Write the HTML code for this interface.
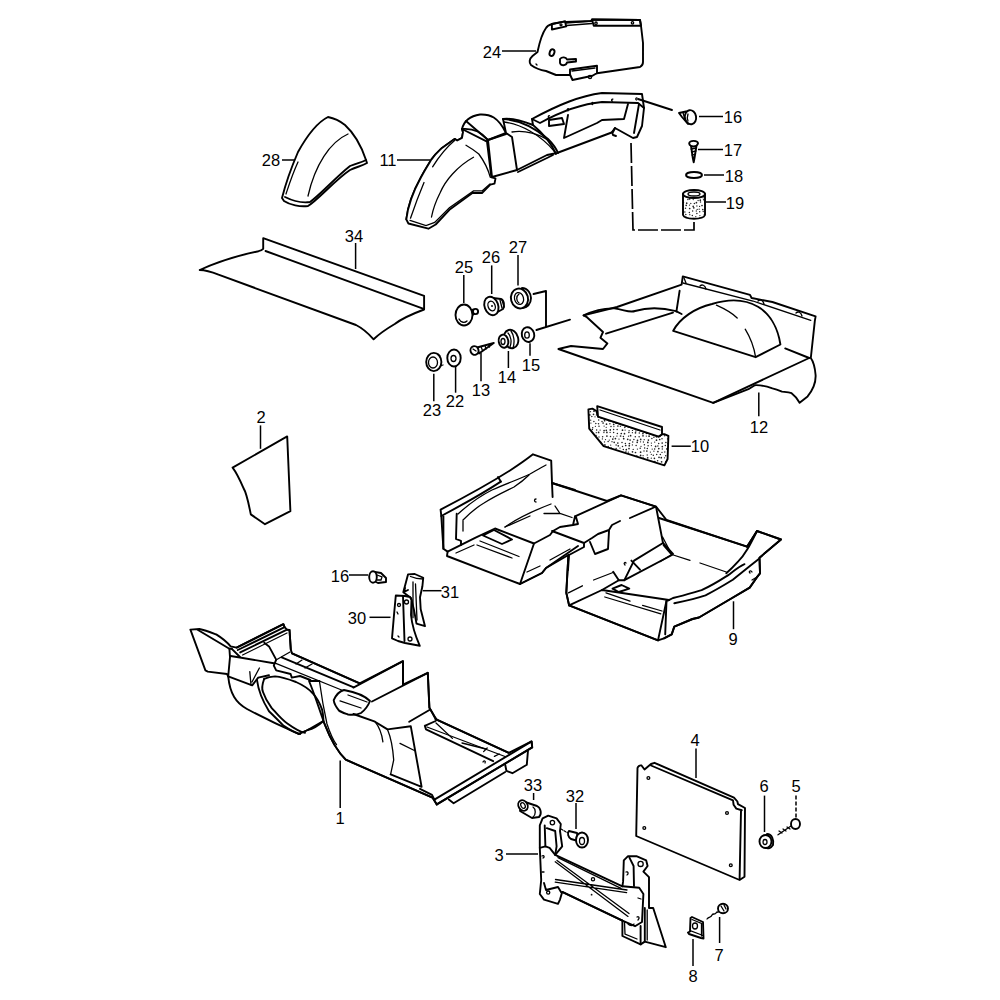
<!DOCTYPE html>
<html><head><meta charset="utf-8"><style>
html,body{margin:0;padding:0;background:#fff;width:1000px;height:1000px;overflow:hidden}
svg{display:block}
.p{fill:#fff;stroke:#000;stroke-width:1.9;stroke-linejoin:round;stroke-linecap:round}
.l{fill:none;stroke:#000;stroke-width:1.9;stroke-linejoin:round;stroke-linecap:round}
.ld{fill:none;stroke:#000;stroke-width:1.5;stroke-linecap:butt}
.t{fill:none;stroke:#000;stroke-width:1.3;stroke-linecap:round}
.d{fill:none;stroke:#000;stroke-width:1.7;stroke-dasharray:20 3}
text{font-family:"Liberation Sans",sans-serif;font-size:16.5px;fill:#000;stroke:none;text-anchor:middle}
</style></head><body>
<svg width="1000" height="1000" viewBox="0 0 1000 1000">
<defs>
<pattern id="dots" width="4" height="4" patternUnits="userSpaceOnUse">
<rect width="4" height="4" fill="#fff"/><circle cx="1" cy="1" r="0.8" fill="#333"/><circle cx="3" cy="3" r="0.6" fill="#555"/>
</pattern>
<clipPath id="c10"><path d="M588.4,409.4 L592.4,408.6 L596.4,411 L598,416.6 L658.8,436.6 L662,434.2 L664.4,434.2 L668.4,435.8 L667.6,459 L664.4,465.4 L603.6,446.2 L589.2,428.6 Z"/></clipPath><clipPath id="c19"><path d="M683,194 L683,215 C685,220 703,220 705,215 L705,194 Z"/></clipPath>
</defs>
<!-- PARTS TOP -->
<g id="p24">
<path class="p" d="M546,28 C541,35 539,45 537.5,52 L532.5,56 C529,59 529,63 531,65 C535,68 540,70 546,71 L556,75 L570,75 L597,73.25 L640,67 C642,66 643,64 643,62 L643,43 L641,25.75 L640,20 L592,19.5 L591,21 L566,22 L565,21.4 L552,24 C549,25 547,26 546,28 Z"/>
<path class="l" d="M551.9,24 L565,21.4 L566.25,26.4 L551.9,29.5 Z"/>
<path class="t" d="M566,23 L592,21 M566.5,25.5 L592,23.5"/>
<path class="l" d="M592,19.5 L640,20 L641,25.75 L593.75,25.75 Z"/>
<circle class="t" cx="561" cy="24.8" r="1"/><circle class="t" cx="596" cy="23.2" r="1.2"/><circle class="t" cx="632.5" cy="22.8" r="1.2"/>
<path class="p" d="M570,69.5 L597,65.75 L597,73 L592.5,75.75 L572.5,80 L570,74.5 Z"/>
<path class="t" d="M572,71 L595,68"/>
<circle class="t" cx="590" cy="77" r="1.6"/>
<ellipse class="l" cx="552" cy="52.6" rx="2.3" ry="3.5" transform="rotate(20 552 52.6)"/>
<path class="l" d="M560,59 C562,56.5 566,57 567,59.5 L576,59 L576,61.5 L567,62.5 C566,66 561,66 560,63 Z"/>
<path class="t" d="M536,64 L537,65"/>
<path class="ld" d="M502,51 L536,51"/>
</g>
<g id="p28">
<path class="p" d="M328,117 C318,122 308,134 298,152 C292,166 286,182 282,198 L284,201 C290,205 300,207 308,206 C318,200 335,180 350,170 C356,167 362,166 367,163 L366,160 C362,148 356,135 345,125 C340,121 333,118 328,117 Z"/>
<path class="l" d="M285,197 C295,202 303,203 310,202 C320,195 335,178 350,166 C357,163 363,162 366,160"/>
<path class="t" d="M348,134 C330,142 315,165 308,196"/>
<path class="t" d="M298,162 C292,175 288,188 286,194"/>
<path class="ld" d="M282,160 L294,160"/>
</g>
<g id="p11">
<path class="p" d="M406.3,219.3 C408,205 414,190 421,177.3 C426,168 430,162 431.5,159.4 C436,153 440,150 442,147.9 L454.6,138.9 L457.2,140.5 L462,137.9 L463,132.1 L462,129 C464,121 470,116 480,114.5 C490,114 498,117 506,133 L512,137 L517,170 L547,155 L552,154 L557,153 L613,132 L615,128 L633,138 L637,137 L642,126 L644,108 L642,94 L602,93 C580,96 560,104 532,119 L533,125 C520,120 510,118 503,119 L506,133 L488,140 L470,160 Z"/>
<path class="p" d="M406.3,219.3 C408,205 414,190 421,177.3 C426,168 430,162 431.5,159.4 C436,153 440,150 442,147.9 L454.6,138.9 L457.2,140.5 L462,137.9 L463,132.1 L462,129 L487,141.6 L491.4,177.3 L495.5,178.3 L494.5,183.6 L490.3,184.6 L482,193 L472.4,193 L449.4,209.8 L435.7,224.5 L428.4,228.7 L408.4,223.5 Z"/>
<path class="t" d="M410,220.3 L426,225.5 L434.7,222.4 L449.4,207.7 L473.5,190.9 L482,190.9 L490,184"/>
<path class="t" d="M410.5,218.2 C415,205 420,192 424,182.5 M432.6,166.8 C440,155 448,146 454.6,140.5"/>
<path class="t" d="M473.5,157.3 C465,162 458,168 452.5,174 C447,180 443,186 440,193 C436,201 433,209 431.5,217"/>
<path class="t" d="M466,145.2 C471,148 475,151 478.8,154 C484,161 488,169 490.3,177.3"/>
<path class="l" d="M462,129 C475,128 482,133 488,140 L506,134"/>
<path class="l" d="M466,121 L488,140 L492,177 L517,170"/>
<path class="l" d="M503,119 C520,120 535,128 548,139 C552,143 556,148 558,153"/>
<path class="t" d="M504,122 C520,124 540,134 555,152"/>
<path class="t" d="M512,132 C525,130 540,134 549,141"/>
<path class="l" d="M518,172 L547,158 L553,155"/>
<path class="l" d="M532,119 L540,123 C560,112 580,104 602,102 L638,103 L644,108"/>
<path class="l" d="M639,104 L634,133"/>
<path class="l" d="M568,115 L564,138 L597,123 L602,120 L624,119 L628,104"/>
<path class="l" d="M533,125 C545,135 552,145 556,154"/>
<path class="l" d="M549,120 L562,118 L564,124 L549,126 Z"/>
<path class="l" d="M615,128 L612,132 L613,135 L616,136"/>
<path class="ld" d="M397,160 L430,160"/>
<path class="t" d="M549.5,115.8 c-1.2,-0.6 -1.8,1.6 -0.4,2"/><path class="t" d="M568.5,108.8 c-1.2,-0.6 -1.8,1.6 -0.4,2"/><path class="t" d="M593.0,102.6 c-1.2,-0.6 -1.8,1.6 -0.4,2"/><path class="t" d="M612.8,99.2 c-1.2,-0.6 -1.8,1.6 -0.4,2"/><path class="t" d="M637.0,98.0 c-1.2,-0.6 -1.8,1.6 -0.4,2"/>
</g>
<g id="p16a">
<path class="l" d="M638,99 L672,110"/>
<path class="p" d="M679,113 L686,111.5 L688,124 L682,117 Z"/>
<path class="t" d="M683,112.5 L685,120"/>
<ellipse class="p" cx="690.5" cy="117.2" rx="5.6" ry="7.1" transform="rotate(-10 690.5 117.2)"/>
<path class="t" d="M688,114 C687,117 687,119 688,121"/>
<path class="ld" d="M699,116.5 L723,116.5"/>
</g>
<g id="p17">
<path class="p" d="M691,145.5 L696.5,145.5 L694.5,158 L693.7,162.4 L692.8,158 Z"/>
<path class="t" d="M691.2,149 L696.3,148 M691.5,152 L696,151 M692,155 L695.5,154"/>
<path class="p" d="M689.2,143.5 C689,140 698,140 698,143.5 C697.5,145.5 695,146.5 693.6,146.5 C692,146.5 689.5,145.5 689.2,143.5 Z"/>
<path class="ld" d="M698,149.5 L723,149.5"/>
</g>
<g id="p18">
<ellipse class="p" cx="694" cy="175" rx="8" ry="3"/>
<path class="ld" d="M704,175 L724,175"/>
</g>
<g id="p19">
<path d="M683,194 L683,215 C685,220 703,220 705,215 L705,194 Z" fill="#fff"/><g clip-path="url(#c19)" fill="#222"><circle cx="684.7" cy="187.6" r="0.85"/><circle cx="686.3" cy="188.7" r="0.85"/><circle cx="690.9" cy="188.3" r="0.75"/><circle cx="693.4" cy="188.3" r="0.65"/><circle cx="697.9" cy="187.2" r="0.75"/><circle cx="699.9" cy="187.8" r="0.75"/><circle cx="703.7" cy="188.4" r="0.65"/><circle cx="681.3" cy="190.9" r="0.65"/><circle cx="684.6" cy="191.4" r="0.85"/><circle cx="687.5" cy="190.6" r="0.75"/><circle cx="692.3" cy="190.9" r="0.75"/><circle cx="695.5" cy="191.1" r="0.85"/><circle cx="699.4" cy="191.8" r="0.65"/><circle cx="701.7" cy="190.1" r="0.75"/><circle cx="704.9" cy="190.7" r="0.85"/><circle cx="682.5" cy="194.7" r="0.65"/><circle cx="684.5" cy="193.6" r="0.75"/><circle cx="689.0" cy="193.4" r="0.85"/><circle cx="693.0" cy="194.2" r="0.75"/><circle cx="695.9" cy="194.8" r="0.75"/><circle cx="698.1" cy="194.3" r="0.65"/><circle cx="703.0" cy="194.2" r="0.85"/><circle cx="705.9" cy="194.1" r="0.65"/><circle cx="682.6" cy="197.6" r="0.75"/><circle cx="686.3" cy="196.6" r="0.65"/><circle cx="689.1" cy="196.4" r="0.75"/><circle cx="691.9" cy="197.8" r="0.65"/><circle cx="695.7" cy="196.4" r="0.75"/><circle cx="699.3" cy="196.3" r="0.65"/><circle cx="703.2" cy="197.8" r="0.65"/><circle cx="705.2" cy="196.9" r="0.85"/><circle cx="682.8" cy="200.5" r="0.85"/><circle cx="687.9" cy="199.5" r="0.75"/><circle cx="689.6" cy="198.9" r="0.85"/><circle cx="693.2" cy="199.6" r="0.65"/><circle cx="698.1" cy="200.5" r="0.65"/><circle cx="700.3" cy="200.2" r="0.85"/><circle cx="703.6" cy="199.7" r="0.75"/><circle cx="683.6" cy="202.3" r="0.65"/><circle cx="686.7" cy="203.2" r="0.85"/><circle cx="690.8" cy="203.5" r="0.65"/><circle cx="694.4" cy="203.6" r="0.75"/><circle cx="696.4" cy="202.7" r="0.85"/><circle cx="700.5" cy="202.1" r="0.75"/><circle cx="704.7" cy="201.9" r="0.75"/><circle cx="682.8" cy="206.1" r="0.75"/><circle cx="686.2" cy="205.3" r="0.85"/><circle cx="689.5" cy="205.1" r="0.65"/><circle cx="693.2" cy="206.4" r="0.85"/><circle cx="696.9" cy="206.0" r="0.65"/><circle cx="699.6" cy="206.4" r="0.65"/><circle cx="702.0" cy="205.5" r="0.85"/><circle cx="705.7" cy="206.1" r="0.65"/><circle cx="683.0" cy="209.3" r="0.65"/><circle cx="685.5" cy="208.2" r="0.75"/><circle cx="689.7" cy="208.5" r="0.85"/><circle cx="693.8" cy="207.8" r="0.85"/><circle cx="697.2" cy="209.4" r="0.65"/><circle cx="699.2" cy="209.2" r="0.65"/><circle cx="702.8" cy="209.5" r="0.85"/><circle cx="707.1" cy="208.0" r="0.65"/><circle cx="682.7" cy="212.3" r="0.75"/><circle cx="684.9" cy="212.1" r="0.75"/><circle cx="689.4" cy="212.6" r="0.75"/><circle cx="692.6" cy="211.1" r="0.75"/><circle cx="696.3" cy="211.0" r="0.65"/><circle cx="699.7" cy="211.8" r="0.75"/><circle cx="703.2" cy="211.5" r="0.65"/><circle cx="705.5" cy="210.7" r="0.85"/><circle cx="682.5" cy="214.4" r="0.75"/><circle cx="685.8" cy="214.6" r="0.75"/><circle cx="689.8" cy="214.7" r="0.65"/><circle cx="692.3" cy="215.4" r="0.75"/><circle cx="696.9" cy="213.6" r="0.75"/><circle cx="699.9" cy="215.6" r="0.65"/><circle cx="704.3" cy="214.4" r="0.65"/><circle cx="706.6" cy="215.2" r="0.75"/><circle cx="682.3" cy="217.8" r="0.85"/><circle cx="685.8" cy="217.0" r="0.75"/><circle cx="690.4" cy="218.6" r="0.75"/><circle cx="693.2" cy="218.5" r="0.65"/><circle cx="695.8" cy="216.6" r="0.65"/><circle cx="700.0" cy="217.9" r="0.75"/><circle cx="703.0" cy="218.1" r="0.75"/><circle cx="705.8" cy="217.5" r="0.65"/><circle cx="680.9" cy="221.1" r="0.75"/><circle cx="685.2" cy="221.1" r="0.85"/><circle cx="688.0" cy="220.2" r="0.85"/><circle cx="692.1" cy="221.1" r="0.65"/><circle cx="695.7" cy="220.5" r="0.85"/><circle cx="698.0" cy="221.3" r="0.85"/><circle cx="700.7" cy="220.7" r="0.65"/><circle cx="704.7" cy="221.0" r="0.85"/></g><path class="l" d="M683,194 L683,215 C685,220 703,220 705,215 L705,194 Z"/>
<ellipse class="p" cx="694" cy="194" rx="11" ry="4"/>
<ellipse class="t" cx="694" cy="194" rx="6" ry="2"/>
<path class="ld" d="M706,202 L726,202"/>
</g>
<path class="d" d="M631,143 L633,230 L694,230 L694,222"/>
<g id="p34">
<path class="p" d="M199.7,270 C215,263 240,255 258.5,251.2 C261,250.5 262.5,249.5 263.2,248.8 L263.2,238.2 L424.1,295.8 L424.1,309.5 C412,314 400,320 394.75,324 C388,328 378,335 373.6,339.3 C368,333 362,328 356,325 L218.5,274.65 C212,272 205,270 199.7,270 Z"/>
<path class="l" d="M265.5,251 L423,308.7"/>
<path class="ld" d="M355.6,243 L355.6,269"/>
</g>
<!-- PARTS MID -->
<g id="small">
<path class="ld" d="M463.8,275 L463.8,303"/>
<path class="p" d="M470,311 L473,309.5 L474,314 L471,316 Z"/><circle class="p" cx="475.5" cy="311.5" r="2.6"/>
<ellipse class="p" cx="464" cy="315" rx="8.5" ry="10.5"/>
<path class="t" d="M459,319 C461,323 465,323 467,321"/>
<path class="ld" d="M491.7,265.4 L491.7,294"/>
<path class="p" d="M493,298 L501,299 C504,300 505,306 503,309 L494,314 Z"/>
<path class="t" d="M500,300 L502,308 M502,299.5 L504,307"/>
<ellipse class="p" cx="491.4" cy="306" rx="6.8" ry="9.5" transform="rotate(-20 491.4 306)"/>
<ellipse class="t" cx="491.6" cy="306" rx="3.5" ry="5" transform="rotate(-20 491.6 306)"/>
<circle cx="492" cy="306" r="1" fill="#111"/>
<path class="ld" d="M518,255 L518,285.4"/>
<path class="p" d="M522,288 C528,288 531,294 531,298 C531,304 527,308 522,308 Z"/>
<ellipse class="p" cx="519.5" cy="298.5" rx="8.5" ry="10" transform="rotate(-15 519.5 298.5)"/>
<ellipse class="t" cx="519" cy="298.5" rx="4.5" ry="6" transform="rotate(-15 519 298.5)"/>
<path class="t" d="M519,294 C516,296 516,301 519,303"/>
<path class="l" d="M533.5,294 L546,291 L546,327 M536.4,330 L570,319.6"/>
<ellipse class="p" cx="511" cy="339" rx="7.2" ry="9.3" transform="rotate(-15 511 339)"/>
<path class="t" d="M508,333 C511,336 512,342 510,347 M511,331 C514,335 515,342 513,348"/>
<ellipse class="p" cx="503.5" cy="341.2" rx="4.8" ry="6.6" transform="rotate(-10 503.5 341.2)"/>
<ellipse class="t" cx="503" cy="341.5" rx="2" ry="3"/>
<path class="ld" d="M508.4,351 L508.4,368"/>
<ellipse class="p" cx="528" cy="334.6" rx="6.2" ry="7.4" transform="rotate(-15 528 334.6)"/>
<ellipse class="t" cx="527" cy="335" rx="2.3" ry="3.2"/>
<path class="ld" d="M530,343.3 L530,355.7"/>
<path class="p" d="M477,347.5 L493.8,343 L479,353.5 Z"/>
<path class="t" d="M481,346.5 L482.5,350.5 M485,345.5 L486,349 M489,344.5 L489.5,347"/>
<ellipse class="p" cx="474.5" cy="350.5" rx="4" ry="4.3" transform="rotate(-20 474.5 350.5)"/>
<path class="t" d="M473,349 L476,351"/>
<path class="ld" d="M481,352.8 L481,381.3"/>
<ellipse class="p" cx="454" cy="358" rx="6.7" ry="8.5"/>
<ellipse class="t" cx="453.5" cy="358.5" rx="2.5" ry="3"/>
<path class="ld" d="M455.6,366 L455.6,392.7"/>
<path class="t" d="M438,354 L440,356 M440,366 L443,365"/>
<ellipse class="p" cx="433.8" cy="362" rx="7.6" ry="9.1"/>
<ellipse class="t" cx="433" cy="362.5" rx="4.5" ry="5.5"/>
<path class="ld" d="M433.8,373.7 L433.8,401.3"/>
</g>
<g id="p12">
<path class="p" d="M558.4,349 L571,346 L603,349 L607.4,343.4 L600.4,337.8 L603,332 L586.4,316.8 L583.6,315.4 L617,307 L681.6,284.6 L682.8,276.4 L750,294.8 L751.6,298 L772.4,302 L815.6,316.4 L814.8,321.2 L810.8,358 C813,361 815,368 815.6,375 C816,383 812,391 807.6,396.4 L799.6,402.8 C797,398 794,395 791.6,393.2 C788,392 785,392 782,391.6 C778,390 775,389 772.4,388.4 C766,386 760,385 754.8,385.2 L748.4,389.2 L713.2,402.8 Z"/>
<path class="t" d="M683,283 L753,301 L810.8,320.4"/>
<path class="t" d="M700,286 C702,284 705,285 706,289 M758,301 C760,299 763,300 764,304 M796,313 C798,311 801,312 802,316 M684,278 L686,283"/>
<path class="l" d="M679.6,290.8 L676.4,311.6"/>
<path class="l" d="M583.6,315.4 C595,310 605,308 614.4,308.4 C625,310 630,313 635,311 C645,308 660,307 676,311.2 L681.6,314"/>
<path class="l" d="M606,333.6 L673,312.6"/>
<path class="l" d="M785.2,348.4 L809.2,358"/>
<path class="p" d="M673.2,330.8 C680,318 695,308 712,304 C728,299 745,299 758,306.8 C770,314 778,328 780.4,344.5 L755.6,357.2 Z"/>
<path class="t" d="M716.4,305.2 C725,309 733,314 737.2,318 M745.2,329.2 C750,337 754,347 755.6,357.2"/>
<path class="l" d="M713.2,402.8 L809.2,358"/>
<path class="ld" d="M758.8,392.4 L758.8,416.2"/>
</g>
<g id="p10">
<path d="M588.4,409.4 L592.4,408.6 L596.4,411 L598,416.6 L658.8,436.6 L662,434.2 L664.4,434.2 L668.4,435.8 L667.6,459 L664.4,465.4 L603.6,446.2 L589.2,428.6 Z" fill="#fff"/><g clip-path="url(#c10)" fill="#222"><circle cx="587.7" cy="405.8" r="0.75"/><circle cx="591.1" cy="405.7" r="0.65"/><circle cx="594.2" cy="405.0" r="0.85"/><circle cx="598.7" cy="404.4" r="0.75"/><circle cx="601.6" cy="404.2" r="0.85"/><circle cx="605.9" cy="405.2" r="0.75"/><circle cx="610.2" cy="405.3" r="0.85"/><circle cx="613.1" cy="405.2" r="0.85"/><circle cx="615.6" cy="404.1" r="0.65"/><circle cx="620.2" cy="405.6" r="0.75"/><circle cx="623.5" cy="405.7" r="0.85"/><circle cx="626.7" cy="404.6" r="0.65"/><circle cx="631.2" cy="404.9" r="0.75"/><circle cx="634.2" cy="405.1" r="0.65"/><circle cx="638.4" cy="404.6" r="0.65"/><circle cx="641.7" cy="404.1" r="0.85"/><circle cx="645.8" cy="404.8" r="0.75"/><circle cx="648.6" cy="405.9" r="0.85"/><circle cx="651.4" cy="404.4" r="0.65"/><circle cx="656.0" cy="406.0" r="0.75"/><circle cx="659.5" cy="405.1" r="0.65"/><circle cx="663.8" cy="404.5" r="0.65"/><circle cx="666.5" cy="404.0" r="0.75"/><circle cx="588.0" cy="407.6" r="0.65"/><circle cx="591.4" cy="408.1" r="0.75"/><circle cx="595.3" cy="408.3" r="0.75"/><circle cx="599.5" cy="409.1" r="0.65"/><circle cx="603.0" cy="407.9" r="0.75"/><circle cx="606.6" cy="407.6" r="0.75"/><circle cx="611.1" cy="409.1" r="0.85"/><circle cx="613.5" cy="408.9" r="0.65"/><circle cx="616.9" cy="409.1" r="0.85"/><circle cx="621.4" cy="407.3" r="0.65"/><circle cx="624.2" cy="407.6" r="0.85"/><circle cx="628.0" cy="407.7" r="0.65"/><circle cx="631.1" cy="407.5" r="0.85"/><circle cx="635.0" cy="408.3" r="0.75"/><circle cx="639.4" cy="407.4" r="0.85"/><circle cx="642.7" cy="408.3" r="0.75"/><circle cx="645.7" cy="407.4" r="0.65"/><circle cx="650.6" cy="407.6" r="0.65"/><circle cx="652.8" cy="408.4" r="0.85"/><circle cx="656.5" cy="409.0" r="0.75"/><circle cx="660.9" cy="408.0" r="0.65"/><circle cx="663.5" cy="408.2" r="0.75"/><circle cx="667.4" cy="408.5" r="0.75"/><circle cx="588.3" cy="411.2" r="0.85"/><circle cx="590.5" cy="411.7" r="0.65"/><circle cx="594.0" cy="411.2" r="0.85"/><circle cx="599.0" cy="411.5" r="0.75"/><circle cx="601.3" cy="412.1" r="0.85"/><circle cx="604.5" cy="410.8" r="0.75"/><circle cx="608.6" cy="410.4" r="0.75"/><circle cx="612.5" cy="411.4" r="0.65"/><circle cx="615.5" cy="410.5" r="0.75"/><circle cx="620.9" cy="411.6" r="0.85"/><circle cx="623.6" cy="412.2" r="0.85"/><circle cx="626.2" cy="410.3" r="0.75"/><circle cx="631.1" cy="412.2" r="0.65"/><circle cx="634.5" cy="410.4" r="0.65"/><circle cx="638.4" cy="410.9" r="0.65"/><circle cx="640.7" cy="411.4" r="0.85"/><circle cx="644.2" cy="412.1" r="0.85"/><circle cx="649.1" cy="411.9" r="0.75"/><circle cx="652.0" cy="411.6" r="0.65"/><circle cx="656.7" cy="411.1" r="0.65"/><circle cx="660.2" cy="411.4" r="0.85"/><circle cx="663.4" cy="411.0" r="0.65"/><circle cx="666.9" cy="410.4" r="0.85"/><circle cx="585.9" cy="414.2" r="0.75"/><circle cx="589.8" cy="414.9" r="0.85"/><circle cx="593.5" cy="414.3" r="0.85"/><circle cx="596.4" cy="414.9" r="0.65"/><circle cx="600.4" cy="413.6" r="0.65"/><circle cx="603.9" cy="414.8" r="0.75"/><circle cx="608.6" cy="414.7" r="0.75"/><circle cx="611.1" cy="413.4" r="0.75"/><circle cx="614.5" cy="414.6" r="0.85"/><circle cx="618.2" cy="415.2" r="0.85"/><circle cx="623.3" cy="414.4" r="0.65"/><circle cx="625.7" cy="414.7" r="0.65"/><circle cx="629.9" cy="415.0" r="0.65"/><circle cx="634.0" cy="414.2" r="0.85"/><circle cx="637.7" cy="413.8" r="0.65"/><circle cx="640.4" cy="415.1" r="0.65"/><circle cx="644.4" cy="415.3" r="0.75"/><circle cx="648.3" cy="413.6" r="0.75"/><circle cx="650.8" cy="413.8" r="0.75"/><circle cx="654.6" cy="414.4" r="0.85"/><circle cx="658.0" cy="415.1" r="0.85"/><circle cx="661.9" cy="413.5" r="0.65"/><circle cx="665.2" cy="414.6" r="0.85"/><circle cx="669.6" cy="414.5" r="0.75"/><circle cx="588.5" cy="417.8" r="0.75"/><circle cx="591.8" cy="416.6" r="0.75"/><circle cx="595.0" cy="416.8" r="0.65"/><circle cx="600.1" cy="416.8" r="0.65"/><circle cx="603.0" cy="417.8" r="0.75"/><circle cx="607.3" cy="417.9" r="0.65"/><circle cx="610.6" cy="417.0" r="0.85"/><circle cx="612.6" cy="417.5" r="0.85"/><circle cx="616.2" cy="417.0" r="0.75"/><circle cx="620.8" cy="418.4" r="0.85"/><circle cx="624.6" cy="418.0" r="0.75"/><circle cx="628.6" cy="417.9" r="0.65"/><circle cx="630.7" cy="418.4" r="0.85"/><circle cx="634.9" cy="417.4" r="0.65"/><circle cx="639.0" cy="418.3" r="0.75"/><circle cx="642.4" cy="417.8" r="0.85"/><circle cx="646.5" cy="418.4" r="0.75"/><circle cx="649.2" cy="418.5" r="0.65"/><circle cx="653.6" cy="418.2" r="0.85"/><circle cx="657.6" cy="416.8" r="0.65"/><circle cx="661.1" cy="418.5" r="0.75"/><circle cx="664.0" cy="418.1" r="0.75"/><circle cx="667.1" cy="418.0" r="0.65"/><circle cx="586.4" cy="420.5" r="0.85"/><circle cx="590.7" cy="420.2" r="0.65"/><circle cx="593.9" cy="421.4" r="0.75"/><circle cx="598.7" cy="420.0" r="0.75"/><circle cx="602.0" cy="421.5" r="0.75"/><circle cx="604.6" cy="420.7" r="0.85"/><circle cx="608.9" cy="421.0" r="0.75"/><circle cx="613.3" cy="420.6" r="0.85"/><circle cx="615.2" cy="420.1" r="0.85"/><circle cx="619.8" cy="421.3" r="0.85"/><circle cx="623.5" cy="420.7" r="0.85"/><circle cx="626.4" cy="421.0" r="0.85"/><circle cx="629.9" cy="421.4" r="0.85"/><circle cx="634.1" cy="420.8" r="0.65"/><circle cx="637.5" cy="419.9" r="0.65"/><circle cx="641.5" cy="419.7" r="0.65"/><circle cx="644.9" cy="420.5" r="0.85"/><circle cx="647.7" cy="419.8" r="0.65"/><circle cx="651.2" cy="420.7" r="0.75"/><circle cx="656.5" cy="421.3" r="0.75"/><circle cx="658.8" cy="420.6" r="0.65"/><circle cx="662.5" cy="421.5" r="0.75"/><circle cx="666.5" cy="419.9" r="0.75"/><circle cx="589.1" cy="423.1" r="0.65"/><circle cx="590.9" cy="423.1" r="0.65"/><circle cx="595.8" cy="423.4" r="0.75"/><circle cx="598.5" cy="423.8" r="0.75"/><circle cx="603.1" cy="423.0" r="0.85"/><circle cx="606.5" cy="424.2" r="0.85"/><circle cx="609.9" cy="423.7" r="0.75"/><circle cx="613.7" cy="424.4" r="0.85"/><circle cx="616.3" cy="423.2" r="0.85"/><circle cx="620.7" cy="423.2" r="0.65"/><circle cx="624.9" cy="424.0" r="0.65"/><circle cx="627.3" cy="424.3" r="0.75"/><circle cx="632.2" cy="423.4" r="0.75"/><circle cx="635.8" cy="423.2" r="0.65"/><circle cx="639.4" cy="423.1" r="0.65"/><circle cx="641.5" cy="423.0" r="0.75"/><circle cx="645.0" cy="424.5" r="0.75"/><circle cx="649.5" cy="424.2" r="0.65"/><circle cx="652.8" cy="424.2" r="0.65"/><circle cx="655.8" cy="423.9" r="0.75"/><circle cx="661.0" cy="424.7" r="0.65"/><circle cx="664.2" cy="424.1" r="0.75"/><circle cx="667.4" cy="424.2" r="0.65"/><circle cx="588.9" cy="426.0" r="0.85"/><circle cx="592.7" cy="427.7" r="0.75"/><circle cx="595.4" cy="426.3" r="0.65"/><circle cx="599.0" cy="426.2" r="0.75"/><circle cx="604.1" cy="426.1" r="0.65"/><circle cx="606.2" cy="427.3" r="0.65"/><circle cx="611.0" cy="426.6" r="0.75"/><circle cx="613.9" cy="426.6" r="0.65"/><circle cx="617.9" cy="426.0" r="0.85"/><circle cx="620.4" cy="426.3" r="0.75"/><circle cx="624.8" cy="427.4" r="0.75"/><circle cx="629.3" cy="427.1" r="0.65"/><circle cx="632.1" cy="426.0" r="0.65"/><circle cx="636.3" cy="427.3" r="0.85"/><circle cx="640.2" cy="427.1" r="0.65"/><circle cx="642.9" cy="427.9" r="0.75"/><circle cx="646.0" cy="426.2" r="0.85"/><circle cx="650.6" cy="427.6" r="0.75"/><circle cx="653.0" cy="426.6" r="0.85"/><circle cx="657.7" cy="427.5" r="0.65"/><circle cx="660.7" cy="427.4" r="0.65"/><circle cx="665.1" cy="426.5" r="0.65"/><circle cx="667.1" cy="426.6" r="0.85"/><circle cx="588.3" cy="429.6" r="0.85"/><circle cx="592.4" cy="429.5" r="0.75"/><circle cx="596.6" cy="430.1" r="0.75"/><circle cx="600.1" cy="430.1" r="0.65"/><circle cx="604.1" cy="430.6" r="0.85"/><circle cx="606.3" cy="430.3" r="0.85"/><circle cx="610.3" cy="429.9" r="0.85"/><circle cx="613.6" cy="429.4" r="0.75"/><circle cx="617.1" cy="429.6" r="0.75"/><circle cx="622.5" cy="430.2" r="0.85"/><circle cx="625.1" cy="430.1" r="0.65"/><circle cx="629.1" cy="430.7" r="0.65"/><circle cx="632.5" cy="430.4" r="0.65"/><circle cx="635.8" cy="430.9" r="0.75"/><circle cx="639.6" cy="429.4" r="0.75"/><circle cx="643.3" cy="430.2" r="0.75"/><circle cx="647.7" cy="429.9" r="0.85"/><circle cx="650.2" cy="429.7" r="0.85"/><circle cx="653.6" cy="430.4" r="0.85"/><circle cx="658.5" cy="430.4" r="0.85"/><circle cx="660.8" cy="429.1" r="0.65"/><circle cx="665.0" cy="430.3" r="0.75"/><circle cx="669.0" cy="429.8" r="0.75"/><circle cx="587.8" cy="434.2" r="0.75"/><circle cx="591.4" cy="434.0" r="0.75"/><circle cx="596.3" cy="432.7" r="0.65"/><circle cx="598.6" cy="432.4" r="0.85"/><circle cx="603.9" cy="432.5" r="0.65"/><circle cx="606.9" cy="432.4" r="0.85"/><circle cx="610.1" cy="432.4" r="0.65"/><circle cx="613.6" cy="432.5" r="0.75"/><circle cx="617.4" cy="433.5" r="0.75"/><circle cx="621.3" cy="433.5" r="0.85"/><circle cx="624.5" cy="433.7" r="0.85"/><circle cx="628.9" cy="432.5" r="0.75"/><circle cx="632.4" cy="432.7" r="0.65"/><circle cx="635.5" cy="432.8" r="0.85"/><circle cx="639.3" cy="432.9" r="0.75"/><circle cx="642.9" cy="433.6" r="0.85"/><circle cx="646.5" cy="433.5" r="0.65"/><circle cx="649.3" cy="432.7" r="0.85"/><circle cx="654.3" cy="433.9" r="0.65"/><circle cx="657.4" cy="432.2" r="0.75"/><circle cx="660.5" cy="433.4" r="0.65"/><circle cx="663.7" cy="432.7" r="0.65"/><circle cx="668.7" cy="432.5" r="0.65"/><circle cx="588.0" cy="436.3" r="0.65"/><circle cx="591.5" cy="436.3" r="0.65"/><circle cx="596.1" cy="435.5" r="0.65"/><circle cx="599.0" cy="437.0" r="0.65"/><circle cx="602.6" cy="436.8" r="0.75"/><circle cx="606.9" cy="436.1" r="0.85"/><circle cx="610.5" cy="436.5" r="0.75"/><circle cx="613.6" cy="436.8" r="0.65"/><circle cx="616.9" cy="436.1" r="0.65"/><circle cx="620.6" cy="436.0" r="0.85"/><circle cx="623.4" cy="436.4" r="0.75"/><circle cx="628.5" cy="436.2" r="0.65"/><circle cx="630.6" cy="435.7" r="0.85"/><circle cx="635.3" cy="436.7" r="0.75"/><circle cx="639.1" cy="436.7" r="0.75"/><circle cx="643.0" cy="435.8" r="0.85"/><circle cx="646.3" cy="436.1" r="0.65"/><circle cx="649.1" cy="436.2" r="0.85"/><circle cx="653.9" cy="437.2" r="0.75"/><circle cx="656.5" cy="436.9" r="0.75"/><circle cx="660.2" cy="435.8" r="0.85"/><circle cx="664.7" cy="435.8" r="0.75"/><circle cx="668.1" cy="435.4" r="0.85"/><circle cx="587.2" cy="438.8" r="0.85"/><circle cx="590.8" cy="439.2" r="0.65"/><circle cx="595.3" cy="439.6" r="0.65"/><circle cx="597.4" cy="439.4" r="0.75"/><circle cx="602.4" cy="438.9" r="0.65"/><circle cx="605.5" cy="439.6" r="0.65"/><circle cx="609.3" cy="440.1" r="0.65"/><circle cx="612.8" cy="439.1" r="0.85"/><circle cx="615.4" cy="438.6" r="0.85"/><circle cx="619.0" cy="439.1" r="0.65"/><circle cx="623.7" cy="438.7" r="0.85"/><circle cx="627.7" cy="439.3" r="0.85"/><circle cx="630.1" cy="440.0" r="0.85"/><circle cx="633.9" cy="439.4" r="0.75"/><circle cx="637.5" cy="440.4" r="0.85"/><circle cx="640.7" cy="439.4" r="0.85"/><circle cx="644.2" cy="439.7" r="0.65"/><circle cx="648.4" cy="440.1" r="0.85"/><circle cx="651.9" cy="438.5" r="0.75"/><circle cx="656.5" cy="440.2" r="0.85"/><circle cx="659.7" cy="439.5" r="0.85"/><circle cx="662.0" cy="438.7" r="0.75"/><circle cx="667.5" cy="438.9" r="0.65"/><circle cx="589.3" cy="441.9" r="0.65"/><circle cx="592.9" cy="442.6" r="0.75"/><circle cx="597.7" cy="441.7" r="0.75"/><circle cx="600.8" cy="442.2" r="0.65"/><circle cx="604.5" cy="441.9" r="0.65"/><circle cx="608.1" cy="441.6" r="0.75"/><circle cx="612.0" cy="441.7" r="0.65"/><circle cx="614.2" cy="442.3" r="0.85"/><circle cx="617.8" cy="443.0" r="0.85"/><circle cx="622.0" cy="442.5" r="0.75"/><circle cx="625.4" cy="443.4" r="0.75"/><circle cx="629.4" cy="443.5" r="0.85"/><circle cx="632.7" cy="442.1" r="0.75"/><circle cx="637.2" cy="442.3" r="0.85"/><circle cx="640.5" cy="441.8" r="0.65"/><circle cx="643.4" cy="442.0" r="0.65"/><circle cx="647.8" cy="442.4" r="0.85"/><circle cx="651.4" cy="443.1" r="0.65"/><circle cx="654.7" cy="442.1" r="0.65"/><circle cx="658.7" cy="443.4" r="0.75"/><circle cx="662.2" cy="443.0" r="0.85"/><circle cx="665.9" cy="442.4" r="0.75"/><circle cx="668.1" cy="443.4" r="0.85"/><circle cx="587.0" cy="446.0" r="0.85"/><circle cx="590.1" cy="445.0" r="0.65"/><circle cx="592.7" cy="446.4" r="0.65"/><circle cx="597.9" cy="444.9" r="0.75"/><circle cx="601.1" cy="445.8" r="0.75"/><circle cx="604.9" cy="444.9" r="0.85"/><circle cx="608.2" cy="446.4" r="0.75"/><circle cx="610.7" cy="445.1" r="0.65"/><circle cx="616.1" cy="444.9" r="0.75"/><circle cx="618.3" cy="445.8" r="0.85"/><circle cx="622.5" cy="446.6" r="0.75"/><circle cx="625.7" cy="445.5" r="0.85"/><circle cx="629.3" cy="445.7" r="0.85"/><circle cx="632.4" cy="444.9" r="0.65"/><circle cx="636.1" cy="445.5" r="0.75"/><circle cx="641.0" cy="446.3" r="0.65"/><circle cx="644.4" cy="444.7" r="0.75"/><circle cx="648.1" cy="445.7" r="0.75"/><circle cx="651.4" cy="445.6" r="0.65"/><circle cx="655.6" cy="446.4" r="0.85"/><circle cx="657.9" cy="445.9" r="0.75"/><circle cx="662.3" cy="446.6" r="0.85"/><circle cx="665.3" cy="445.4" r="0.75"/><circle cx="669.4" cy="444.9" r="0.65"/><circle cx="587.2" cy="448.5" r="0.75"/><circle cx="590.4" cy="449.3" r="0.75"/><circle cx="593.8" cy="448.6" r="0.65"/><circle cx="596.8" cy="448.0" r="0.85"/><circle cx="601.4" cy="448.2" r="0.65"/><circle cx="604.5" cy="449.5" r="0.85"/><circle cx="608.7" cy="448.0" r="0.65"/><circle cx="611.2" cy="448.1" r="0.75"/><circle cx="616.1" cy="448.5" r="0.75"/><circle cx="620.0" cy="448.1" r="0.65"/><circle cx="623.3" cy="449.5" r="0.75"/><circle cx="626.3" cy="449.7" r="0.85"/><circle cx="629.0" cy="448.6" r="0.85"/><circle cx="633.2" cy="449.4" r="0.65"/><circle cx="637.4" cy="449.1" r="0.65"/><circle cx="640.2" cy="448.2" r="0.75"/><circle cx="644.6" cy="448.1" r="0.75"/><circle cx="647.3" cy="448.5" r="0.75"/><circle cx="652.2" cy="449.1" r="0.65"/><circle cx="654.6" cy="448.9" r="0.75"/><circle cx="658.8" cy="448.6" r="0.85"/><circle cx="662.3" cy="449.0" r="0.65"/><circle cx="666.9" cy="448.9" r="0.85"/><circle cx="669.9" cy="449.7" r="0.85"/><circle cx="589.7" cy="451.4" r="0.65"/><circle cx="592.3" cy="451.9" r="0.75"/><circle cx="597.0" cy="451.6" r="0.75"/><circle cx="599.7" cy="452.7" r="0.75"/><circle cx="604.7" cy="451.3" r="0.85"/><circle cx="607.5" cy="452.1" r="0.85"/><circle cx="611.8" cy="451.3" r="0.85"/><circle cx="615.6" cy="452.6" r="0.85"/><circle cx="617.5" cy="452.8" r="0.65"/><circle cx="621.4" cy="452.8" r="0.65"/><circle cx="625.9" cy="451.7" r="0.65"/><circle cx="628.4" cy="452.1" r="0.65"/><circle cx="632.5" cy="451.8" r="0.85"/><circle cx="635.5" cy="452.5" r="0.85"/><circle cx="640.6" cy="452.2" r="0.85"/><circle cx="644.0" cy="451.0" r="0.65"/><circle cx="646.8" cy="451.0" r="0.85"/><circle cx="650.4" cy="452.1" r="0.65"/><circle cx="653.9" cy="451.2" r="0.65"/><circle cx="657.9" cy="451.6" r="0.85"/><circle cx="662.0" cy="452.4" r="0.65"/><circle cx="664.8" cy="452.0" r="0.65"/><circle cx="668.5" cy="451.8" r="0.85"/><circle cx="589.4" cy="454.9" r="0.75"/><circle cx="592.9" cy="456.1" r="0.85"/><circle cx="596.3" cy="455.0" r="0.85"/><circle cx="599.3" cy="456.0" r="0.75"/><circle cx="603.7" cy="455.0" r="0.65"/><circle cx="606.9" cy="454.2" r="0.85"/><circle cx="611.1" cy="455.0" r="0.75"/><circle cx="614.7" cy="455.6" r="0.75"/><circle cx="618.9" cy="455.9" r="0.65"/><circle cx="620.9" cy="455.0" r="0.85"/><circle cx="626.0" cy="456.1" r="0.75"/><circle cx="629.3" cy="455.2" r="0.65"/><circle cx="632.6" cy="455.4" r="0.65"/><circle cx="636.8" cy="456.1" r="0.85"/><circle cx="640.6" cy="455.4" r="0.85"/><circle cx="643.1" cy="455.7" r="0.65"/><circle cx="647.2" cy="455.0" r="0.65"/><circle cx="651.3" cy="454.3" r="0.65"/><circle cx="653.3" cy="455.2" r="0.75"/><circle cx="656.7" cy="454.6" r="0.75"/><circle cx="660.3" cy="454.5" r="0.75"/><circle cx="665.7" cy="455.7" r="0.75"/><circle cx="667.8" cy="455.5" r="0.65"/><circle cx="585.2" cy="459.0" r="0.75"/><circle cx="589.4" cy="457.5" r="0.75"/><circle cx="594.1" cy="457.6" r="0.85"/><circle cx="597.8" cy="457.6" r="0.75"/><circle cx="601.4" cy="457.3" r="0.85"/><circle cx="604.9" cy="459.2" r="0.65"/><circle cx="607.8" cy="457.7" r="0.65"/><circle cx="611.7" cy="457.9" r="0.75"/><circle cx="615.9" cy="457.8" r="0.75"/><circle cx="619.0" cy="457.5" r="0.85"/><circle cx="623.1" cy="458.8" r="0.75"/><circle cx="624.9" cy="457.7" r="0.75"/><circle cx="628.6" cy="458.6" r="0.75"/><circle cx="632.3" cy="457.7" r="0.85"/><circle cx="636.2" cy="457.8" r="0.85"/><circle cx="640.2" cy="457.5" r="0.85"/><circle cx="643.2" cy="457.8" r="0.65"/><circle cx="647.7" cy="457.8" r="0.85"/><circle cx="651.3" cy="458.2" r="0.65"/><circle cx="654.4" cy="458.3" r="0.85"/><circle cx="659.0" cy="457.3" r="0.85"/><circle cx="661.3" cy="457.7" r="0.85"/><circle cx="664.5" cy="457.8" r="0.65"/><circle cx="668.5" cy="457.8" r="0.85"/><circle cx="586.7" cy="460.7" r="0.65"/><circle cx="589.9" cy="462.2" r="0.85"/><circle cx="593.1" cy="462.2" r="0.75"/><circle cx="596.0" cy="460.5" r="0.85"/><circle cx="601.3" cy="461.0" r="0.75"/><circle cx="604.7" cy="461.4" r="0.85"/><circle cx="608.4" cy="461.6" r="0.85"/><circle cx="611.8" cy="461.4" r="0.85"/><circle cx="615.5" cy="460.7" r="0.85"/><circle cx="618.4" cy="461.7" r="0.85"/><circle cx="622.6" cy="461.9" r="0.85"/><circle cx="625.2" cy="461.4" r="0.65"/><circle cx="630.0" cy="461.6" r="0.75"/><circle cx="632.0" cy="461.6" r="0.85"/><circle cx="635.6" cy="461.3" r="0.65"/><circle cx="639.8" cy="461.6" r="0.85"/><circle cx="643.7" cy="461.2" r="0.75"/><circle cx="647.8" cy="462.1" r="0.65"/><circle cx="650.0" cy="462.2" r="0.85"/><circle cx="654.8" cy="461.5" r="0.85"/><circle cx="657.6" cy="460.7" r="0.75"/><circle cx="661.6" cy="461.8" r="0.85"/><circle cx="665.8" cy="461.9" r="0.85"/><circle cx="668.9" cy="461.7" r="0.85"/><circle cx="586.1" cy="463.8" r="0.85"/><circle cx="590.5" cy="464.7" r="0.75"/><circle cx="592.9" cy="464.3" r="0.75"/><circle cx="597.8" cy="464.9" r="0.65"/><circle cx="600.3" cy="465.0" r="0.85"/><circle cx="605.6" cy="463.8" r="0.75"/><circle cx="608.3" cy="465.5" r="0.65"/><circle cx="611.3" cy="465.3" r="0.65"/><circle cx="614.6" cy="464.6" r="0.75"/><circle cx="618.9" cy="463.7" r="0.65"/><circle cx="623.0" cy="464.9" r="0.85"/><circle cx="626.4" cy="464.1" r="0.65"/><circle cx="629.9" cy="464.0" r="0.75"/><circle cx="632.6" cy="464.0" r="0.75"/><circle cx="636.7" cy="465.5" r="0.85"/><circle cx="640.1" cy="463.8" r="0.85"/><circle cx="644.5" cy="463.6" r="0.75"/><circle cx="648.0" cy="465.3" r="0.85"/><circle cx="652.3" cy="463.9" r="0.75"/><circle cx="655.9" cy="463.9" r="0.75"/><circle cx="659.2" cy="463.9" r="0.75"/><circle cx="661.7" cy="465.1" r="0.65"/><circle cx="665.8" cy="464.3" r="0.85"/><circle cx="669.4" cy="464.1" r="0.75"/><circle cx="588.0" cy="467.0" r="0.75"/><circle cx="590.8" cy="467.4" r="0.65"/><circle cx="594.1" cy="467.2" r="0.75"/><circle cx="598.8" cy="467.7" r="0.85"/><circle cx="601.7" cy="467.4" r="0.85"/><circle cx="606.2" cy="467.2" r="0.75"/><circle cx="608.5" cy="468.1" r="0.75"/><circle cx="612.2" cy="467.1" r="0.65"/><circle cx="615.6" cy="467.3" r="0.75"/><circle cx="620.1" cy="468.3" r="0.75"/><circle cx="623.4" cy="468.2" r="0.85"/><circle cx="627.7" cy="467.2" r="0.85"/><circle cx="630.4" cy="466.7" r="0.65"/><circle cx="634.6" cy="466.9" r="0.65"/><circle cx="637.8" cy="467.5" r="0.85"/><circle cx="642.2" cy="467.7" r="0.85"/><circle cx="644.9" cy="468.1" r="0.85"/><circle cx="648.7" cy="468.4" r="0.75"/><circle cx="652.6" cy="467.5" r="0.65"/><circle cx="655.9" cy="468.4" r="0.65"/><circle cx="659.0" cy="467.4" r="0.85"/><circle cx="662.8" cy="466.7" r="0.65"/><circle cx="667.5" cy="467.6" r="0.65"/></g><path class="l" d="M588.4,409.4 L592.4,408.6 L596.4,411 L598,416.6 L658.8,436.6 L662,434.2 L664.4,434.2 L668.4,435.8 L667.6,459 L664.4,465.4 L603.6,446.2 L589.2,428.6 Z"/>
<path class="p" d="M597.2,406.2 L662,427 L662,434.2 L658.8,436.6 L598,416.6 Z"/>
<path class="t" d="M600,410 L660,430"/>
<path class="ld" d="M671.6,446.2 L690.8,446.2"/>
</g>
<g id="p2">
<path class="p" d="M232.6,467.6 L287.2,436.4 L290.4,511.2 L265,524.2 L250.8,514.4 C248,500 246,492 243.6,488.4 C240,480 236,472 232.6,467.6 Z"/>
<path class="ld" d="M260.5,425.4 L260.5,448.8"/>
</g>
<!-- PART 9 -->
<g id="p9">
<path class="p" d="M440.6,509.6 C465,497 495,480 510,470.5 C520,464 527,459 533,454.3 L551.2,460.6 L552,483 L607,501 L621,495.4 L656,506.6 L666.5,520 L747,546.7 L757,531 L781,539.5 L759.5,557.7 L760,573.3 L757,577.2 L749.7,587.6 L730,599.3 L699,617.5 L692.5,619 L674.3,626.6 L671.7,634.4 L664,638.3 L658,640.4 L569.1,605.4 L566.3,592.8 L568.4,555 L546,568 L542,573 L520,584 L447,556 L447.6,551.6 L443.4,548.8 L441.3,516 Z"/>
<!-- left section -->
<path class="l" d="M441.3,516 C460,506 485,492 500.8,481.6"/>
<path class="l" d="M498,477 L500.8,481.6"/>
<path class="l" d="M443.4,516.6 L443.4,548.8"/>
<path class="l" d="M552,483 L575,490"/>
<path class="t" d="M458,514 C470,503 482,495 492,490 C505,484 520,479 530,474 C537,470 542,467 546,465"/>
<path class="t" d="M463,520 C470,513 477,507 484,503 C495,496 506,491 514,487 C520,483 525,479 529,475"/>
<path class="t" d="M551,504 C530,512 515,520 505,527"/>
<path class="l" d="M456.7,513.8 L456,539 C458,540 460,540 461,541 L461,545"/>
<path class="t" d="M463,521 L463,531"/>
<path class="l" d="M447.6,551.6 L475.6,537.6 L495,528.5 L534,543.5 L520,584"/>


<path class="l" d="M483,535.5 L494,530 L512,539.5 L502,544 Z"/>
<path class="t" d="M456,553 L474,545 M480,541 L519,556.5 M477,545 L512,558 M527,572 L540,566 M550,560 L570,549 M505,527 L530,516"/>
<path class="t" d="M536,499 C534,499 534,502 536,502"/>
<!-- tunnel -->
<path class="l" d="M552,483 L552.6,497"/><path class="t" d="M544,513.5 L560,513.5 L572,517.5 M555,506 L560,513.5"/>
<path class="l" d="M575,516.4 L621,495.4 L656,506.6 L663,543 L673,554"/>
<path class="l" d="M659,518 L747,546.7"/>
<path class="l" d="M575,516.4 L573,525 L578,524 L576,517 M573,525 L560,527 L553,531 L550,535 L534,543.5 M552,531 L584,543 L584,547 L569,555 L568,570 M584,543 L592,538 L598,534 L609,530 L612,525 L620,521 M630,518 L655,507 M520,584 L542,573 L546,568 L578,546"/>
<path class="l" d="M590,542 L595,554 L608,549 L609,531"/>

<!-- right front -->
<path class="l" d="M568.4,555 L566.3,592.8 L569.1,605.4 L658,640.4 L666.4,601.2"/>
<path class="l" d="M569.1,605.4 L602,590 L669,600"/>
<path class="t" d="M568.4,592.8 L582.4,585.8 M593.6,580 L613,572.5"/>
<path class="l" d="M602,590 L618.8,580.2 L624.4,580.2 L672,555 L663.6,545.2"/>
<path class="l" d="M618.8,580.2 L613.2,571.8 M624.4,580.2 L634,560.6 L663,543"/>
<path class="l" d="M631.4,560.6 L640,569.7"/>
<path class="l" d="M612.5,588.6 L621.6,585 L629.3,588.6 L618.8,592 Z"/>
<path class="t" d="M604.8,597 L660.8,613.8 M606,592.8 L630,601.2 M642.6,605.4 L662,611"/>
<path class="t" d="M625,565 C623,563 625,562 626,563"/>
<!-- rail & flap -->
<path class="l" d="M747,546.7 L757,531 L781,539.5 L759.5,557.7 L760,573.3 L757,577.2 L749.7,587.6 L730,599.3 L699,617.5 L692.5,619 L674.3,626.6 L671.7,634.4 L664,638.3"/>
<path class="l" d="M757,531 C750,545 745,555 738,561.6 C734,566 730,570 726.3,573.3"/>
<path class="l" d="M667.8,600.6 L673,598 C685,595 695,592 701.6,590.2 C715,584 722,579 729,574.6 C735,570 740,566 744.5,564.2"/>
<path class="l" d="M674.3,603.2 C690,600 698,598 705.5,595.4 C718,589 726,584 732.8,579.8 C740,574 750,566 758.8,559"/>
<path class="l" d="M666.5,600.6 L665.2,634.4"/>
<path class="t" d="M671.7,554.5 L690,560.3 M700,563 L726.3,572"/>
<path class="t" d="M662.6,537 L671.7,554.5 L660,561.6"/>
<path class="t" d="M750,573 C748,571 751,570 752,572 M752,580 L757,577"/>
<path class="ld" d="M733.5,601.3 L733.5,629.2"/>
</g>
<!-- PART 1 -->
<g id="p1">
<!-- fill -->
<path class="p" d="M190.4,629.6 L199.4,629 C205,630 210,632 216.2,634.4 C222,638 227,642 230.6,646.4 L236.6,647.6 L283.4,624.2 L284.6,627.2 L287,629.6 L289.5,630 L290.8,649.5 L292,653.4 L359.7,683.3 L403,661.2 L403,684.5 L427.8,672.8 L429.4,707.7 C432,712 434,716 435.6,719.2 L508.8,752.8 L531.6,741.4 L532.2,747.4 L436.8,804.4 L432.5,797.6 L345.7,759.7 C336,750 330,738 325,725 L323.3,721 L307.7,730 L298.6,734 C285,728 262,717 247,709 C236,703 230,694 228.2,676.4 L227,674 L207.8,671.6 L205.4,670.4 Z"/>
<path class="l" d="M198,630 L229.4,648.8 L231.8,648.8"/>
<path class="l" d="M229.4,648.8 L230,657.2 L228.2,676.4"/>
<path class="l" d="M230.6,656 L241.4,657.8 L273.8,663.2"/>
<path class="l" d="M231.8,648.8 L240,657"/>
<path class="l" d="M228.2,676.4 L252.2,685.4 L258.2,677.6 L269,675.2"/>
<path class="t" d="M249.8,671.6 L251,685 M259.4,668 L252,682"/>
<path class="l" d="M257,680 C258,688 262,700 269,711.2 C275,717 280,722 283.4,725.6 C290,730 295,733 300.2,734"/>
<path class="l" d="M264.2,678.8 C262,685 262,690 263,692 C265,698 268,703 271.4,707.6 C278,715 282,720 287,723.2 C295,729 300,732 305,732.8"/>
<path class="l" d="M264.2,678.8 C268,677 271,676.5 275,676.4 C282,677 288,679 296,682 C305,686 310,690 313,693.7 C318,699 320,704 322,709.3 C323,714 323.5,718 323.3,721 C318,726 312,729 307.7,730 L298.6,734"/>
<!-- rails -->
<path class="l" d="M236.6,647.6 L283.4,624.2 L284.6,627.2 L237.8,650"/>
<path class="l" d="M240.2,652.4 L287,629.6 L289.5,630 L290.8,649.5"/>
<path class="t" d="M242.6,655 L287,633"/>
<path class="l" d="M264.2,642.8 L269,646.4 L276.2,659.6 L273.8,665.6 L276.2,670.4 L290.6,674 L291.8,677.6 L300,676 L310.3,680"/>
<path class="l" d="M292,653.4 L359.7,683.3"/>
<path class="l" d="M281.7,657.3 L353.2,687.2"/>
<path class="t" d="M275.2,663.2 L342.8,690.5"/>
<path class="t" d="M276,660 L290,652 M296,664 L302,660 M305,668 L312,664"/>

<!-- tunnel hump -->
<path class="p" d="M344,690 C355,692 365,696 370,701 C368,706 365,710 361,713 C357,715 352,715 348,714.5 C344,713 341,712 339,710.6 C336,707 334,703 333.7,700.2 C336,695 340,691 344,690 Z"/>
<path class="t" d="M340,700.9 L361,708 M348,695 L367,702"/>
<!-- seat walls -->
<path class="l" d="M353.4,687.6 L403,661.2 L403,684.5"/>
<path class="l" d="M372,701.5 L427.8,672.8 L429.4,707.7 C432,712 434,716 437,720"/>
<path class="l" d="M409.2,721.7 L429.4,710"/>
<path class="l" d="M309,681 L319.4,681 M309,681 C315,695 320,712 325,725 C330,738 336,750 345.7,759.7 L432.5,797.6 L436.8,804.4"/>
<path class="t" d="M319.4,681 C322,700 325,715 327,724 C330,733 333,740 336.5,744.7"/>
<path class="l" d="M353.4,714 L375,721.7 L387.5,729.4 L410.8,726.3 L421.6,786.8 L390.6,774.4"/>
<path class="t" d="M375,721.7 C380,728 382,735 382.9,741.8 M387.5,729.4 C392,740 393,750 393.7,760 L390.6,774.4"/>
<path class="t" d="M400,743.4 L415.4,751"/>
<!-- floor rails -->
<path class="l" d="M435.6,719.2 L508.8,752.8"/>
<path class="l" d="M424.8,725.8 L435.6,721 M424.8,725.8 L426,729.4 L493.2,761.2"/>
<path class="t" d="M427,727 L505,756.5"/>
<path class="t" d="M436,723 L452.4,738.4 M462,743 L486,749 M483.6,751.6 L487.2,748 M494.4,756.4 L499.2,754 M483,762 C484,760 486,761 485,763"/>
<path class="l" d="M434.4,799.6 L531.6,741.4 L532.2,747.4 L436.8,804.4"/>
<path class="l" d="M505.2,764.8 L506.4,770.8 L512.4,773.2 L526.8,764.8 L528,750.4"/>
<path class="l" d="M448.8,799.6 L453.6,803.2 L505.2,772"/>
<path class="l" d="M420,788.8 L432,794.8 L434.4,799.6"/>
<path class="ld" d="M340.2,760.4 L340.2,808"/>
</g>
<!-- BOTTOM RIGHT -->
<g id="p16b">
<path class="ld" d="M349,575 L368,575"/>
<path class="p" d="M375,572 L381,573 L386,578 L386,582 L378,583 L374,581 Z"/>
<ellipse class="p" cx="373" cy="577" rx="3.8" ry="5.8"/>
<path class="t" d="M377,575 L382,577 L381,580 L377,580"/>
</g>
<g id="p31">
<path class="p" d="M408,574.4 L414.75,574 L423.25,577.75 L422.4,586.25 L420,597.3 L420.7,609.2 L425,626.2 L416.5,623.65 L414,610 L411,598 L403.3,592.2 Z"/>
<path class="t" d="M410.5,576.5 C414,578 419,579 423,579 M413,582 L413,617.7 M415.5,584 L417,620"/>
<path class="l" d="M405,588 L404,592 L408,590"/>
<path class="ld" d="M422.8,590.7 L441.5,590.7"/>
</g>
<g id="p30">
<path class="p" d="M395.8,595.5 L405,596 L410,597 L411.5,600 L411,615 C412,625 415,635 419.8,645.8 L405,643 L398,641 L392,638.3 L394,615 Z"/>
<path class="l" d="M403,596 L404.5,641"/>
<circle class="t" cx="399" cy="605" r="1.5"/><circle class="t" cx="406.5" cy="602" r="2"/>
<circle class="t" cx="410" cy="639" r="2"/>
<path class="t" d="M397,612 L398,614 M398,636 L399,637"/>
<path class="ld" d="M369.5,617.3 L390.5,617.3"/>
</g>
<g id="p33">
<path class="ld" d="M533.6,793 L533.6,800"/>
<path class="p" d="M522,801 L537,806 C541,808 542,814 539,817 L532,818 L520,811 Z"/>
<ellipse class="p" cx="523" cy="805.5" rx="4.5" ry="5.5" transform="rotate(-30 523 805.5)"/>
<ellipse class="t" cx="523" cy="805.5" rx="2" ry="3" transform="rotate(-30 523 805.5)"/>
<path class="t" d="M533,807 C536,809 536,815 533,817"/>
</g>
<g id="p32">
<path class="ld" d="M576,803 L576,829"/><path class="t" d="M561,829 L568,833" stroke-dasharray="2 1.5"/>
<path class="p" d="M569,831 L577,833 L578,841 L571,839 C568,837 567,833 569,831 Z"/>
<ellipse class="p" cx="582" cy="840" rx="6" ry="7.5"/>
<ellipse class="t" cx="582" cy="841" rx="2.5" ry="3.5"/>
</g>
<g id="p3">
<path class="ld" d="M506,854 L538,854"/>
<path class="p" d="M539.8,825.4 L542.6,818.4 L548.2,815.6 L556.6,818.4 L560.8,824 L560,831 L562.2,846.4 L555.2,854.8 L622.4,886.3 L623.1,881.4 L623.8,860.4 L628,856.2 L636.4,856.2 L646.2,860.4 L647.6,866 L643.4,871.6 L649,877.2 L649,908 L653.2,908 L665.8,947.2 L644.8,941.6 L640.6,944.4 L622.4,936 L622.4,920.6 L562.2,891.9 L560,899.6 L558,903.8 L544,899.6 L539.8,894 L541.2,880 L539.8,847.8 Z"/>
<circle class="t" cx="552.4" cy="822.6" r="2.2"/>
<path class="l" d="M544.7,825.4 L545.4,846.4 M546.8,828.2 L555.2,831 L556.6,846.4 L555.2,854.8"/>
<path class="l" d="M539.8,847.8 L545.4,846.4 L549.6,847.8 L555.2,854.8"/>
<path class="t" d="M558,857.6 L621,888.4"/>
<path class="l" d="M562.2,891.9 L622.4,920.6"/>
<path class="l" d="M622.4,886.3 L639.2,887.7 L643.4,894 L642,922 L635,926.2 L622.4,920.6"/>
<path class="t" d="M555.2,861.8 L628,916.4 M557,860.5 L629,913.5 M555.2,882.1 L626.6,892.6 M555.5,879.5 L627,890"/>
<circle class="t" cx="593" cy="879.3" r="1.6"/><circle cx="591.6" cy="894.7" r="0.9" fill="#111"/>
<path class="l" d="M544,883 L546,890 L558,887 L561,892"/>
<circle class="t" cx="548.2" cy="892.6" r="1.6"/>
<path class="t" d="M542,856 C544,855 545,857 543,858 M542,872 L544,872"/>
<circle class="t" cx="640.6" cy="863.9" r="2.6"/>
<path class="l" d="M629.4,857.6 L633.6,866 L634,886"/>
<path class="t" d="M626,872 C628,871 629,874 627,875 M638,898 L641,899 M637,917 C639,916 640,918 638,920"/>
<path class="l" d="M644.8,908 L644.8,941.6 M640.6,926 L640.6,944.4"/>
<path class="t" d="M647.2,910 L647.2,940 M624.5,922 L625,934 L637,939 M628,924 C630,926 633,926 634,924"/>
</g>
<g id="p4">
<path class="p" d="M637.5,768 C638,766 640,765 641.5,765.5 L644.5,769.5 L651,764 L654.5,762.8 L734,797.6 L737.4,801.5 L738,804.2 L745,808 L744.5,876.8 L739.6,880 L636.2,836 Z"/>
<path class="l" d="M651,765.5 L733,800.4 L733.6,804.75 L736.3,808.6 L741.8,810.25 M741,810.8 L739.6,879"/>
<circle class="t" cx="648.4" cy="778" r="1.4"/><circle class="t" cx="727" cy="813" r="1.4"/>
<circle class="t" cx="644.3" cy="828" r="1.4"/><circle class="t" cx="730.8" cy="865.2" r="1.4"/>
<path class="ld" d="M696,748.4 L696,778"/>
</g>
<g id="p6">
<path class="ld" d="M764.5,795.6 L764.5,832"/>
<path class="p" d="M767,834 C772,834 774,840 773,845 C771,848 768,849 766,848 Z"/>
<ellipse class="p" cx="765.5" cy="841.5" rx="6" ry="6.5"/>
<ellipse class="t" cx="765" cy="842" rx="2" ry="2.5"/>
</g>
<g id="p5">
<path class="ld" d="M796,795.6 L796,818" stroke-dasharray="4 2"/>
<path class="t" d="M778,834.8 L791,826 M779,831 L782,833 M783,829 L786,831 M787,827 L790,829"/>
<ellipse class="p" cx="795.5" cy="824" rx="4.5" ry="5"/>
</g>
<g id="p7">
<path class="t" d="M707,919 C709,916 711,918 712,915 C713,913 715,915 716,913 C717,911 719,913 720,911"/>
<ellipse class="p" cx="723" cy="908.5" rx="5" ry="4.8"/>
<path class="t" d="M721,906 L724,911 M724,905 L726,909"/>
<path class="ld" d="M719.6,917 L719.6,943"/>
</g>
<g id="p8">
<path class="p" d="M690.5,918 L692,917 L703,922 L703.5,938.5 L701,938 L689,934 L688,932.5 L690,931.5 Z"/>
<path class="t" d="M692,919.5 L701.5,923.5 L701.5,936 M688,932.5 L691,931 L703,935.5"/>
<ellipse class="t" cx="695" cy="926" rx="2.5" ry="3"/>
<path class="ld" d="M693,939 L693,966"/>
</g>
<!-- LABELS -->
<g id="labels">
<text x="492" y="58">24</text>
<text x="271" y="166">28</text>
<text x="388" y="166">11</text>
<text x="733" y="123">16</text>
<text x="733" y="156">17</text>
<text x="734" y="182">18</text>
<text x="735" y="209">19</text>
<text x="354" y="242">34</text>
<text x="464" y="273">25</text>
<text x="491" y="263">26</text>
<text x="518" y="253">27</text>
<text x="531" y="370.5">15</text>
<text x="507" y="383">14</text>
<text x="481" y="395.5">13</text>
<text x="455" y="407">22</text>
<text x="432" y="416">23</text>
<text x="759" y="433">12</text>
<text x="700" y="452">10</text>
<text x="261" y="423">2</text>
<text x="733" y="645">9</text>
<text x="340" y="582">16</text>
<text x="450" y="597.5">31</text>
<text x="357" y="624">30</text>
<text x="340" y="824">1</text>
<text x="533" y="791">33</text>
<text x="575" y="802">32</text>
<text x="499" y="861">3</text>
<text x="695" y="746">4</text>
<text x="764" y="791.5">6</text>
<text x="796" y="792">5</text>
<text x="719" y="961">7</text>
<text x="693" y="982">8</text>
</g>
</svg>
</body></html>
